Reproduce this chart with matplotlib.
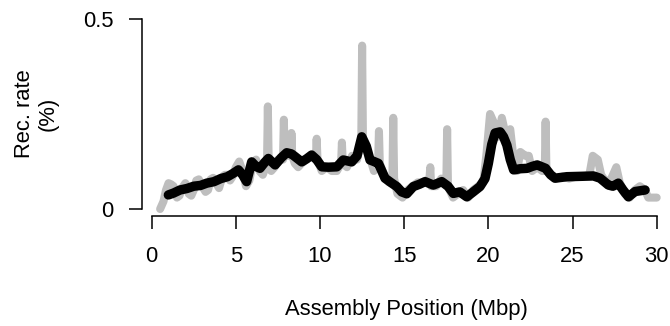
import matplotlib
matplotlib.use("Agg")
import matplotlib.pyplot as plt

# Gray: raw recombination rate (position in Mbp, rate in %)
raw_pos = [0.5, 0.7, 0.85, 1.0, 1.15, 1.3, 1.5, 1.65, 1.8, 2.0, 2.2, 2.35, 2.5, 2.65, 2.8,
           3.0, 3.2, 3.35, 3.5, 3.65, 3.8, 4.0, 4.2, 4.35, 4.5, 4.65, 4.8, 5.0, 5.2, 5.4,
           5.6, 5.8, 6.0, 6.2, 6.4, 6.6, 6.85, 6.9, 6.95, 7.1, 7.3, 7.5, 7.8, 7.85, 7.9,
           8.28, 8.3, 8.35, 8.5, 8.7, 8.9, 9.2, 9.5, 9.75, 9.8, 9.85, 10.1, 10.4, 10.7,
           11.0, 11.25, 11.3, 11.35, 11.6, 11.9, 12.2, 12.45, 12.5, 12.55, 12.8, 13.0,
           13.2, 13.45, 13.5, 13.55, 13.8, 14.1, 14.3, 14.35, 14.4, 14.6, 14.9, 15.2,
           15.5, 15.8, 16.1, 16.5, 16.55, 16.6, 16.9, 17.2, 17.5, 17.55, 17.6, 17.9,
           18.2, 18.5, 18.8, 19.1, 19.4, 19.7, 19.9, 20.1, 20.4, 20.6, 20.8, 21.0, 21.3,
           21.5, 21.7, 21.9, 22.2, 22.4, 22.6, 22.9, 23.2, 23.35, 23.4, 23.45, 23.7,
           24.0, 24.4, 24.8, 25.2, 25.6, 26.0, 26.2, 26.5, 26.7, 27.0, 27.3, 27.6, 27.8,
           28.1, 28.4, 28.7, 29.0, 29.3, 29.5, 30.0]
raw_rate = [0.0, 0.02, 0.05, 0.068, 0.065, 0.06, 0.03, 0.035, 0.055, 0.068, 0.04, 0.035,
            0.05, 0.075, 0.078, 0.06, 0.045, 0.05, 0.078, 0.082, 0.07, 0.055, 0.085, 0.09,
            0.09, 0.075, 0.085, 0.11, 0.125, 0.10, 0.06, 0.075, 0.12, 0.13, 0.10, 0.09,
            0.12, 0.27, 0.12, 0.10, 0.11, 0.13, 0.13, 0.235, 0.14, 0.14, 0.20, 0.14, 0.12,
            0.11, 0.12, 0.13, 0.14, 0.13, 0.185, 0.13, 0.10, 0.11, 0.10, 0.10, 0.12, 0.175,
            0.12, 0.11, 0.14, 0.13, 0.18, 0.43, 0.18, 0.15, 0.13, 0.10, 0.12, 0.205, 0.12,
            0.09, 0.07, 0.08, 0.24, 0.08, 0.04, 0.03, 0.05, 0.06, 0.07, 0.07, 0.08, 0.11,
            0.06, 0.06, 0.08, 0.06, 0.21, 0.06, 0.03, 0.04, 0.05, 0.03, 0.05, 0.06, 0.07,
            0.15, 0.25, 0.22, 0.19, 0.24, 0.20, 0.21, 0.13, 0.10, 0.15, 0.14, 0.14, 0.10,
            0.11, 0.10, 0.10, 0.23, 0.10, 0.09, 0.08, 0.085, 0.08, 0.085, 0.085, 0.09,
            0.14, 0.13, 0.09, 0.07, 0.08, 0.11, 0.07, 0.04, 0.03, 0.05, 0.06, 0.05, 0.03,
            0.03]

# Black: smoothed recombination rate
smooth_pos = [0.99, 1.3, 1.68, 2.1, 2.5, 2.9, 3.27, 3.7, 4.1, 4.5, 4.85, 5.15, 5.4, 5.64,
              5.94, 6.2, 6.43, 6.7, 6.93, 7.33, 7.7, 8.02, 8.3, 8.51, 8.91, 9.2, 9.5, 9.8,
              10.1, 10.5, 11.0, 11.38, 11.88, 12.2, 12.48, 12.75, 12.97, 13.2, 13.47,
              13.86, 14.2, 14.56, 14.85, 15.15, 15.54, 15.9, 16.24, 16.73, 17.23, 17.6,
              17.92, 18.3, 18.72, 19.1, 19.5, 19.8, 20.0, 20.2, 20.4, 20.7, 20.9, 21.1,
              21.3, 21.5, 21.9, 22.3, 22.6, 22.9, 23.4, 23.7, 23.96, 24.3, 24.66, 25.5,
              26.24, 26.64, 27.13, 27.4, 27.72, 28.0, 28.32, 28.72, 29.31]
smooth_rate = [0.037, 0.042, 0.05, 0.054, 0.06, 0.062, 0.068, 0.072, 0.08, 0.085, 0.094,
               0.103, 0.09, 0.072, 0.124, 0.112, 0.107, 0.122, 0.133, 0.116, 0.135, 0.148,
               0.145, 0.138, 0.124, 0.132, 0.142, 0.13, 0.111, 0.11, 0.111, 0.129, 0.124,
               0.14, 0.19, 0.165, 0.129, 0.125, 0.12, 0.081, 0.07, 0.059, 0.045, 0.04,
               0.059, 0.065, 0.072, 0.063, 0.072, 0.06, 0.041, 0.045, 0.032, 0.045, 0.059,
               0.08, 0.12, 0.17, 0.2, 0.203, 0.19, 0.168, 0.13, 0.103, 0.106, 0.107, 0.112,
               0.116, 0.107, 0.09, 0.081, 0.083, 0.085, 0.086, 0.087, 0.081, 0.063, 0.06,
               0.068, 0.05, 0.032, 0.046, 0.05]

x_ticks = [0, 5, 10, 15, 20, 25, 30]
y_ticks = [0, 0.5]
y_tick_labels = ["0", "0.5"]

plt.rcParams['font.family'] = ['Liberation Sans', 'DejaVu Sans']

W, H = 670, 326
fig = plt.figure(figsize=(W / 100, H / 100), dpi=100)
ax = fig.add_axes([151.7 / W, (H - 209) / H, 505 / W, 190 / H])
ax.set_xlim(0, 30)
ax.set_ylim(0, 0.5)

ax.plot(raw_pos, raw_rate, color="#BEBEBE", lw=5.8, solid_capstyle="round",
        solid_joinstyle="round", clip_on=False)
ax.plot(smooth_pos, smooth_rate, color="black", lw=6.8, solid_capstyle="round",
        solid_joinstyle="round", clip_on=False)

for s in ["top", "right"]:
    ax.spines[s].set_visible(False)
ax.spines["left"].set_position(("outward", 7.2))
ax.spines["bottom"].set_position(("outward", 5))
ax.spines["left"].set_bounds(0, 0.5)
ax.spines["bottom"].set_bounds(0, 30)
for s in ["left", "bottom"]:
    ax.spines[s].set_linewidth(1.1)

ax.set_xticks(x_ticks)
ax.set_xticklabels([str(t) for t in x_ticks])
ax.set_yticks(y_ticks)
ax.set_yticklabels(y_tick_labels)
ax.tick_params(axis="both", direction="out", length=9.7, width=1.1, labelsize=15.8)
ax.tick_params(axis="x", pad=12)
ax.tick_params(axis="y", pad=10.8)

fig.text(406.5 / W, (H - 310) / H, "Assembly Position (Mbp)", fontsize=15.8,
         ha="center", va="center")
fig.text(36.5 / W, (H - 114) / H, "Rec. rate\n(%)", fontsize=15.8, rotation=90,
         ha="center", va="center", multialignment="center", linespacing=1.2)

fig.savefig("out.png", dpi=100)
